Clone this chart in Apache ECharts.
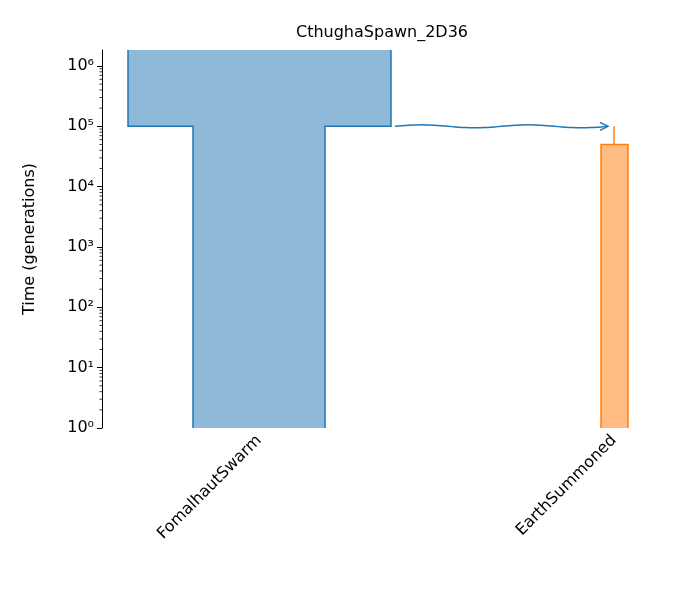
<!DOCTYPE html>
<html><head><meta charset="utf-8">
<script src="https://cdn.jsdelivr.net/npm/echarts@6/dist/echarts.min.js"></script>
<style>html,body{margin:0;background:#fff}#c{width:675px;height:600px}</style>
</head><body><div id="c"></div>
<script>
// deme names and label positions (x in layout units)
const demeNames = ["FomalhautSwarm", "EarthSummoned"];
const demeCenters = [157, 512];
// epochs: [deme index, start time, end time, left x, right x]
const epochs = [
  [0, 1.84e6, 1e5, 26, 289],
  [0, 1e5, 1, 91, 223],
  [1, 5e4, 1, 499, 526]
];
const fills = ["#8fb9d9", "#ffbb80"];
const strokes = ["#1f77b4", "#ff7f0e"];
// ancestry line from parent end to child start
const ancestryLine = [[512, 1e5], [512, 5e4]];
// pulse migration: [from x, to x, time]
const pulses = [[293, 506, 1e5]];
const yMin = 1, yMax = 1.84e6;
const majorTicks = [1, 10, 100, 1e3, 1e4, 1e5, 1e6];

const chart = echarts.init(document.getElementById('c'));
const sups = ['⁰','¹','²','³','⁴','⁵','⁶'];

function demeShape(params, api) {
  const d = fills.length; // unused
  const groups = [];
  // Fomalhaut outline as a single shape
  const a = epochs[0], b = epochs[1];
  const p = (x, y) => api.coord([x, y]);
  const fomPts = [p(b[3], 1), p(b[3], 1e5), p(a[3], 1e5), p(a[3], yMax), p(a[4], yMax), p(a[4], 1e5), p(b[4], 1e5), p(b[4], 1)];
  groups.push({type: 'polygon', shape: {points: fomPts}, style: {fill: fills[0], stroke: null}});
  groups.push({type: 'polyline', shape: {points: [fomPts[0], fomPts[1], fomPts[2], fomPts[3]]}, style: {stroke: strokes[0], lineWidth: 1.5, fill: null}});
  groups.push({type: 'polyline', shape: {points: [fomPts[4], fomPts[5], fomPts[6], fomPts[7]]}, style: {stroke: strokes[0], lineWidth: 1.5, fill: null}});
  const e = epochs[2];
  const ePts = [p(e[3], e[2]), p(e[3], e[1]), p(e[4], e[1]), p(e[4], e[2])];
  groups.push({type: 'polygon', shape: {points: ePts}, style: {fill: fills[1], stroke: null}});
  groups.push({type: 'polyline', shape: {points: ePts}, style: {stroke: strokes[1], lineWidth: 1.5, fill: null}});
  groups.push({type: 'polyline', shape: {points: ancestryLine.map(q => p(q[0], q[1]))}, style: {stroke: strokes[1], lineWidth: 1.5, fill: null}});
  pulses.forEach(pl => {
    const s = p(pl[0], pl[2]), t = p(pl[1], pl[2]);
    const pts = [];
    const n = 60;
    for (let i = 0; i <= n; i++) {
      const f = i / n;
      pts.push([s[0] + (t[0] - s[0]) * f, s[1] - 1.5 * Math.sin(f * Math.PI * 4)]);
    }
    groups.push({type: 'polyline', shape: {points: pts}, style: {stroke: strokes[0], lineWidth: 1.5, fill: null}});
    groups.push({type: 'polyline', shape: {points: [[t[0] - 8, t[1] - 4], [t[0], t[1]], [t[0] - 8, t[1] + 4]]}, style: {stroke: strokes[0], lineWidth: 1.5, fill: null}});
  });
  // minor log ticks
  for (let k = 0; k < 7; k++) {
    for (let m = 2; m <= 9; m++) {
      const v = m * Math.pow(10, k);
      if (v > yMax) continue;
      const c = p(0, v);
      groups.push({type: 'line', shape: {x1: c[0] - 2.5, y1: c[1], x2: c[0], y2: c[1]}, style: {stroke: '#000', lineWidth: 0.8}});
    }
  }
  return {type: 'group', children: groups};
}

chart.setOption({
  animation: false,
  title: {text: 'CthughaSpawn_2D36', left: 377, top: 20, textAlign: 'center',
    textStyle: {fontFamily: 'DejaVu Sans', fontSize: 16, fontWeight: 'normal', color: '#000'}},
  grid: {left: 102, right: 40, top: 50, bottom: 172},
  xAxis: {type: 'value', min: 0, max: 533,
    axisLine: {show: false}, splitLine: {show: false},
    axisTick: {show: false},
    axisLabel: {customValues: demeCenters, rotate: 45, fontFamily: 'DejaVu Sans', fontSize: 16, color: '#000', margin: 10,
      formatter: v => demeNames[demeCenters.indexOf(v)] || ''}},
  yAxis: {type: 'log', logBase: 10, min: yMin, max: yMax,
    name: 'Time (generations)', nameLocation: 'middle', nameGap: 64, nameRotate: 90,
    nameTextStyle: {fontFamily: 'DejaVu Sans', fontSize: 16, color: '#000'},
    axisLine: {show: true, lineStyle: {color: '#000', width: 1}},
    axisTick: {show: true, customValues: majorTicks, length: 5, lineStyle: {color: '#000'}},
    splitLine: {show: false},
    axisLabel: {customValues: majorTicks, fontFamily: 'DejaVu Sans', fontSize: 16, color: '#000', margin: 8,
      formatter: v => '10' + sups[Math.round(Math.log10(v))]}},
  series: [{type: 'custom', clip: false, renderItem: demeShape, data: [[0, 1]], silent: true}]
});
</script></body></html>
